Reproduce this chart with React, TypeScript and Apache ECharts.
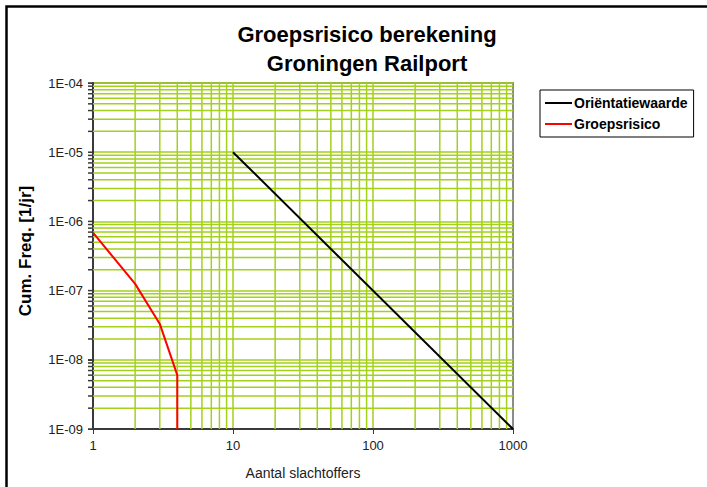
import React, { useEffect, useRef } from "react";
import * as echarts from "echarts";

const titleLines = ["Groepsrisico berekening", "Groningen Railport"];
const xAxisName = "Aantal slachtoffers";
const yAxisName = "Cum. Freq. [1/jr]";
const xTickLabels = ["1", "10", "100", "1000"];
const yTickLabels = ["1E-09", "1E-08", "1E-07", "1E-06", "1E-05", "1E-04"];

const orientNames = "Oriëntatiewaarde";
const orientX = [10, 1000];
const orientY = [1e-5, 1e-9];

const groepsName = "Groepsrisico";
const groepsX = [1, 2, 3, 4, 4];
const groepsY = [6.9e-7, 1.25e-7, 3.3e-8, 6e-9, 1e-9];

const xMinor = [2, 3, 4, 5, 6, 7, 8, 9, 20, 30, 40, 50, 60, 70, 80, 90, 200, 300, 400, 500, 600, 700, 800, 900];
const yMinor = [
  2e-9, 3e-9, 4e-9, 5e-9, 6e-9, 7e-9, 8e-9, 9e-9,
  2e-8, 3e-8, 4e-8, 5e-8, 6e-8, 7e-8, 8e-8, 9e-8,
  2e-7, 3e-7, 4e-7, 5e-7, 6e-7, 7e-7, 8e-7, 9e-7,
  2e-6, 3e-6, 4e-6, 5e-6, 6e-6, 7e-6, 8e-6, 9e-6,
  2e-5, 3e-5, 4e-5, 5e-5, 6e-5, 7e-5, 8e-5, 9e-5,
];
const yMajor = [1e-9, 1e-8, 1e-7, 1e-6, 1e-5, 1e-4];

const X_MIN = 1;
const X_MAX = 1000;
const Y_MIN = 1e-9;
const Y_MAX = 1e-4;

const GREEN = "#a3d11c";
const FONT = "Liberation Sans, Arial, sans-serif";

export default function App() {
  const ref = useRef<HTMLDivElement>(null);
  useEffect(() => {
    if (!ref.current) return;
    const chart = echarts.init(ref.current, undefined, { renderer: "svg" });
    const xIdx = (v: number) => Math.round(Math.log10(v));
    const yIdx = (v: number) => Math.round(Math.log10(v)) + 9;

    const gridSeries: any[] = [
      ...xMinor.map((v) => ({
        type: "line",
        silent: true,
        symbol: "none",
        z: 1,
        data: [[v, Y_MIN], [v, Y_MAX]],
        lineStyle: { color: GREEN, width: 1.5 },
      })),
      ...yMinor.map((v) => ({
        type: "line",
        silent: true,
        symbol: "none",
        z: 1,
        data: [[X_MIN, v], [X_MAX, v]],
        lineStyle: { color: GREEN, width: 1.5 },
      })),
    ];

    chart.setOption({
      animation: false,
      backgroundColor: "#fff",
      textStyle: { fontFamily: FONT },
      title: {
        text: titleLines.join("\n"),
        left: 362,
        top: 15,
        textAlign: "center",
        textStyle: { fontFamily: FONT, fontSize: 22, fontWeight: "bold", color: "#000", lineHeight: 29 },
      },
      graphic: [
        {
          type: "rect",
          shape: { x: 6.5, y: 6.5, width: 720, height: 500 },
          style: { fill: "none", stroke: "#000", lineWidth: 2.5 },
          silent: true,
          z: 100,
        },
      ],
      legend: {
        orient: "vertical",
        left: 540,
        top: 90,
        width: 157,
        backgroundColor: "#fff",
        borderColor: "#000",
        borderWidth: 1,
        borderRadius: 0,
        padding: [6, 6, 6, 5],
        icon: "rect",
        itemWidth: 27,
        itemHeight: 2,
        itemGap: 7,
        textStyle: { fontFamily: FONT, fontSize: 14, fontWeight: "bold", color: "#000", padding: [0, 0, 0, -3] },
        data: [orientNames, groepsName],
      },
      grid: {
        left: 93,
        top: 83,
        right: 707 - 513,
        bottom: 487 - 429,
        show: true,
        borderColor: "#8c8c8c",
        borderWidth: 2,
        backgroundColor: "#fff",
      },
      xAxis: {
        type: "log",
        logBase: 10,
        min: X_MIN,
        max: X_MAX,
        name: xAxisName,
        nameLocation: "middle",
        nameGap: 37,
        nameTextStyle: { fontFamily: FONT, fontSize: 14, color: "#222" },
        axisLine: { show: true, lineStyle: { color: "#3a3a3a", width: 2 } },
        axisTick: { show: true, inside: false, length: 5, lineStyle: { color: "#3a3a3a", width: 1 } },
        axisLabel: {
          margin: 10,
          fontFamily: FONT,
          fontSize: 13,
          color: "#222",
          formatter: (v: number) => xTickLabels[xIdx(v)] ?? "",
        },
        splitLine: { show: true, showMaxLine: false, lineStyle: { color: GREEN, width: 1.5 } },
      },
      yAxis: {
        type: "log",
        logBase: 10,
        min: Y_MIN,
        max: Y_MAX,
        name: yAxisName,
        nameLocation: "middle",
        nameGap: 59,
        nameTextStyle: { fontFamily: FONT, fontSize: 17, fontWeight: "bold", color: "#000", padding: [0, 0, 0, 10] },
        axisLine: { show: true, lineStyle: { color: "#3a3a3a", width: 2 } },
        axisTick: { show: true, inside: false, length: 5, lineStyle: { color: "#3a3a3a", width: 1 } },
        axisLabel: {
          margin: 10,
          fontFamily: FONT,
          fontSize: 13,
          color: "#222",
          formatter: (v: number) => yTickLabels[yIdx(v)] ?? "",
        },
        splitLine: { show: true, showMaxLine: false, lineStyle: { color: GREEN, width: 1.5 } },
      },
      series: [
        ...gridSeries,
        {
          name: "__ticks",
          type: "custom",
          silent: true,
          clip: false,
          encode: { x: 0, y: 1 },
          data: [...yMinor, ...yMajor].map((v) => [X_MIN, v]),
          renderItem: (params: any, api: any) => {
            const p = api.coord([api.value(0), api.value(1)]);
            return {
              type: "line",
              shape: { x1: p[0] - 5, y1: p[1], x2: p[0], y2: p[1] },
              style: { stroke: "#3a3a3a", lineWidth: 1.5 },
            };
          },
          z: 5,
        },
        {
          name: orientNames,
          type: "line",
          data: orientX.map((x, i) => [x, orientY[i]]),
          symbol: "none",
          lineStyle: { color: "#000", width: 2 },
          itemStyle: { color: "#000" },
          z: 10,
        },
        {
          name: groepsName,
          type: "line",
          data: groepsX.map((x, i) => [x, groepsY[i]]),
          symbol: "none",
          lineStyle: { color: "#ff0000", width: 2 },
          itemStyle: { color: "#ff0000" },
          z: 10,
        },
      ],
    });
    return () => chart.dispose();
  }, []);
  return (
    <div
      ref={ref}
      style={{ position: "fixed", left: 0, top: 0, width: 707, height: 487, background: "#fff" }}
    />
  );
}
